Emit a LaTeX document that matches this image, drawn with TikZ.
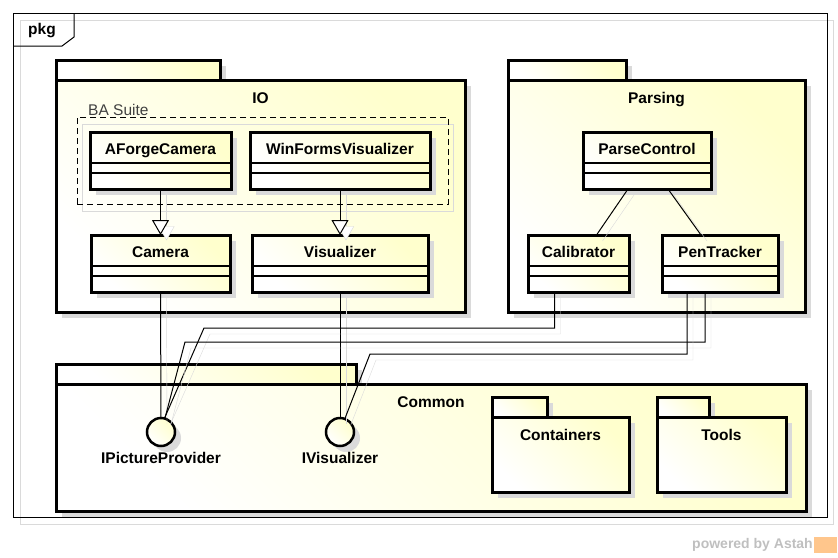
\documentclass[tikz,border=0pt]{standalone}
\usepackage{fontspec}
\setmainfont{Liberation Sans}
\usetikzlibrary{positioning,shadows,arrows.meta}
\definecolor{cream}{RGB}{255,255,205}
\definecolor{shadowgray}{RGB}{218,218,218}
\newcommand{\umlfont}{\bfseries\fontsize{15.5}{18}\selectfont}

\begin{document}
\begin{tikzpicture}[x=1pt, y=-1pt,
    umlfill/.style={left color=white, right color=cream, shading angle=135},
    boxshadow/.style={drop shadow={shadow xshift=6pt, shadow yshift=-6pt, fill=shadowgray, opacity=1}},
    lineshadow/.style={preaction={draw=shadowgray, transform canvas={shift={(6pt,-6pt)}}}},
    pkgtab/.style={draw, line width=3pt, inner sep=0pt, outer sep=0pt, minimum height=20pt, umlfill, boxshadow},
    pkgbody/.style={draw, line width=3pt, inner sep=0pt, outer sep=0pt, text height=23pt, font=\umlfont, umlfill, boxshadow},
    umlclass/.style={draw, line width=3pt, inner sep=0pt, outer sep=0pt, minimum height=57pt,
        text height=22pt, text depth=35pt, font=\umlfont, umlfill, boxshadow,
        path picture={\draw[line width=1.2pt]
            ([yshift=-31pt]path picture bounding box.north west) -- ([yshift=-31pt]path picture bounding box.north east)
            ([yshift=-41pt]path picture bounding box.north west) -- ([yshift=-41pt]path picture bounding box.north east);}},
    suite/.style={draw, line width=1pt, dash pattern=on 6pt off 4pt, inner sep=0pt, outer sep=0pt,
        preaction={draw=shadowgray, solid, transform canvas={shift={(5pt,-7pt)}}}},
    suitelabel/.style={font=\fontsize{15.5}{18}\selectfont, text=black!75, inner sep=1pt},
    iface/.style={circle, draw, line width=2.5pt, minimum size=28pt, inner sep=0pt, outer sep=0pt, umlfill, boxshadow},
    ifacelabel/.style={font=\umlfont, inner sep=2pt, label distance=4pt},
    conn/.style={line width=1pt, lineshadow},
    gen/.style={conn, -{Triangle[width=17pt, length=15pt, fill=white, line width=1pt]}}
]
\useasboundingbox (0,0) rectangle (838,557);

% frame
\draw[shadowgray, line width=1pt] (20,20) rectangle (833,524);
\draw[line width=1pt] (13,13) rectangle (827,517);
\draw[line width=1pt] (13,46) -- (62,46) -- (74,37) -- (74,13);
\node[font=\umlfont] (pkg) at (42,31) {pkg};

% IO
\node[pkgtab, minimum width=164pt, anchor=north west] (iotab) at (56,60) {};
\node[pkgbody, minimum width=409pt, text depth=209pt, below right=0pt of iotab.south west] (io) {IO};

\node[suite, minimum width=371pt, minimum height=87pt, anchor=north west] (basuite) at (77,117) {};
\node[suitelabel, anchor=south west] (basuitelbl) at ([xshift=10pt]basuite.north west) {BA Suite};

\node[umlclass, minimum width=141pt, anchor=north west] (afc) at (90,132) {AForgeCamera};
\node[umlclass, minimum width=180pt, anchor=north west] (wfv) at (250,132) {WinFormsVisualizer};
\node[umlclass, minimum width=139pt, below=46pt of afc] (cam) {Camera};
\node[umlclass, minimum width=176pt, below=46pt of wfv] (vis) {Visualizer};

% Parsing
\node[pkgtab, minimum width=118pt, anchor=north west] (parsingtab) at (508,60) {};
\node[pkgbody, minimum width=297pt, text depth=209pt, below right=0pt of parsingtab.south west] (parsing) {Parsing};

\node[umlclass, minimum width=128pt, anchor=north west] (pc) at (583,132) {ParseControl};
\node[umlclass, minimum width=101pt, anchor=north west] (cal) at (528,235) {Calibrator};
\node[umlclass, minimum width=116pt, anchor=north west] (pen) at (662,235) {PenTracker};

% Common
\node[pkgtab, minimum width=300pt, anchor=north west] (commontab) at (56,364) {};
\node[pkgbody, minimum width=750pt, text depth=104pt, below right=0pt of commontab.south west] (common) {Common};

\node[pkgtab, minimum width=55pt, anchor=north west] (conttab) at (492,397) {};
\node[pkgbody, minimum width=137pt, text depth=52pt, below right=0pt of conttab.south west] (cont) {Containers};
\node[pkgtab, minimum width=52pt, anchor=north west] (toolstab) at (657,397) {};
\node[pkgbody, minimum width=129pt, text depth=52pt, below right=0pt of toolstab.south west] (tools) {Tools};

\node[iface, label={[ifacelabel]below:IPictureProvider}] (ipp) at (161,432) {};
\node[iface, label={[ifacelabel]below:IVisualizer}] (ivis) at (340,432) {};

% connectors
\coordinate (k1) at (204,328);
\coordinate (k2) at (185,342);
\coordinate (k3) at (370,354);

\draw[gen] (afc.south) -- (cam.north);
\draw[gen] (wfv.south) -- (vis.north);
\draw[conn] ([xshift=-19pt]pc.south) -- ([xshift=18pt]cal.north);
\draw[conn] ([xshift=21pt]pc.south) -- ([xshift=-19pt]pen.north);
\draw[conn] (cam.south) -- (ipp.north);
\draw[conn] (vis.south) -- (ivis.north);
\draw[conn] ([xshift=-24pt]cal.south) |- (k1) -- (ipp.76);
\draw[conn] ([xshift=-15pt]pen.south) |- (k2) -- (ipp.74);
\draw[conn] ([xshift=-33pt]pen.south) |- (k3) -- (ivis.70);

% watermark
\node[font=\bfseries\fontsize{14}{16}\selectfont, text=black!25, anchor=east, inner sep=0pt] (powered) at (813,545) {powered by Astah};
\node[fill=orange!45, minimum width=23pt, minimum height=16pt, inner sep=0pt, right=1pt of powered] (logo) {};

\end{tikzpicture}
\end{document}
